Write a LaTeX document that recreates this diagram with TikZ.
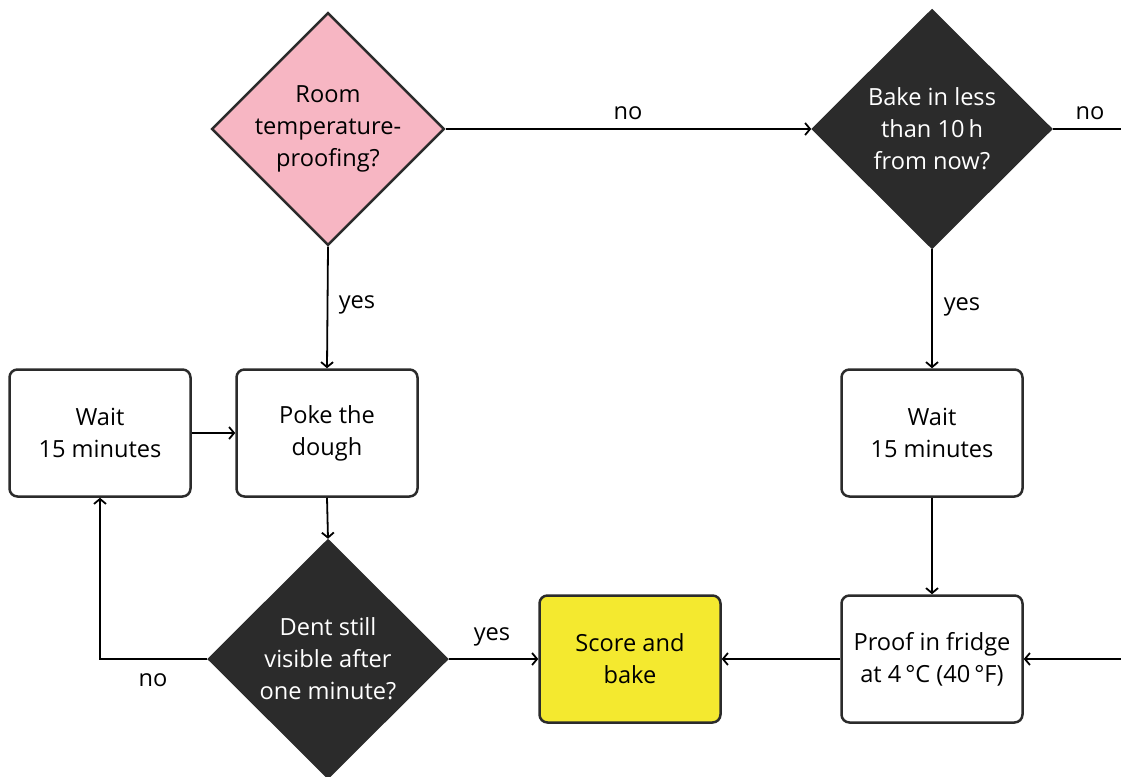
\documentclass[tikz,border=0pt]{standalone}
\usepackage{fontspec}
\setmainfont{Open Sans}
\usetikzlibrary{shapes.geometric,arrows.meta}
\definecolor{edgec}{HTML}{2B2B2B}
\definecolor{darkc}{HTML}{2B2B2B}
\definecolor{pinkc}{HTML}{F7B6C3}
\definecolor{yellowc}{HTML}{F4E92F}
\begin{document}
\begin{tikzpicture}[x=1pt,y=-1pt,
  font=\fontsize{23.6}{32}\selectfont,
  decision/.style={diamond, draw=edgec, line width=2.5pt, inner sep=0pt, align=center},
  box/.style={rectangle, rounded corners=8pt, draw=edgec, line width=2.5pt, minimum width=181pt, minimum height=127pt, align=center, fill=white},
  conn/.style={line width=1.8pt, draw=black, -{Straight Barb[length=5pt,width=12pt]}},
  plain/.style={line width=1.8pt, draw=black},
  lab/.style={inner sep=0pt}]
\useasboundingbox (0,0) rectangle (1121,776);
\node[decision, fill=pinkc, minimum width=230pt, minimum height=228pt] (d1) at (328,129) {Room\\temperature-\\proofing?};
\node[decision, fill=darkc, text=white, minimum width=239pt, minimum height=238pt] (d2) at (932,129) {Bake in less\\than 10\,h\\from now?};
\node[decision, fill=darkc, text=white, minimum width=239pt, minimum height=238pt] (d3) at (328,659) {Dent still\\visible after\\one minute?};
\node[box] (w1) at (100,433) {Wait\\15 minutes};
\node[box] (poke) at (327,433) {Poke the\\dough};
\node[box] (w2) at (932,433) {Wait\\15 minutes};
\node[box, fill=yellowc] (score) at (630,659) {Score and\\bake};
\node[box] (proof) at (932,659) {Proof in fridge\\at 4\,°C (40\,°F)};
\coordinate (r1) at (1121,129);
\coordinate (r2) at (1121,659);
\draw[conn] (d1.east) -- (d2.west);
\draw[plain] (d2.east) -- (r1);
\draw[conn] (r2) -- (proof.east);
\draw[conn] (d1.south) -- (poke.north);
\draw[conn] (d2.south) -- (w2.north);
\draw[conn] (w2.south) -- (proof.north);
\draw[conn] (proof.west) -- (score.east);
\draw[conn] (d3.east) -- (score.west);
\draw[conn] (d3.west) -| (w1.south);
\draw[conn] (w1.east) -- (poke.west);
\draw[conn] (poke.south) -- (d3.north);
\node[lab] (l1) at (628,113) {no};
\node[lab] (l2) at (1090,113) {no};
\node[lab] (l3) at (357,305) {yes};
\node[lab] (l4) at (962,307) {yes};
\node[lab] (l5) at (492,637) {yes};
\node[lab] (l6) at (153,680) {no};
\end{tikzpicture}
\end{document}
